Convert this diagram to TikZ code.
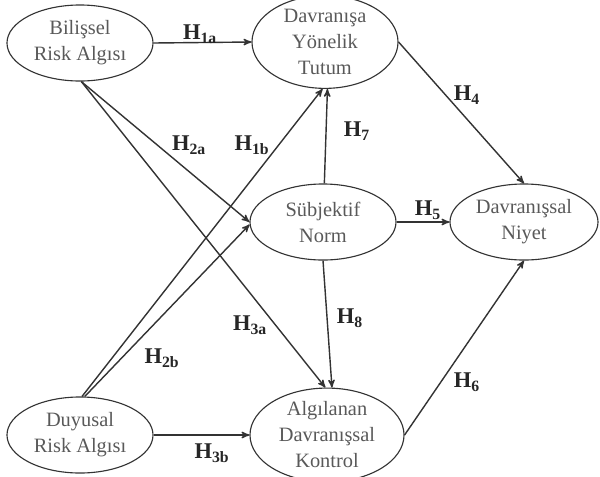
\documentclass[tikz,border=0pt]{standalone}
\usepackage{fontspec}
\setmainfont{Liberation Serif}
\usepackage{tikz}
\usetikzlibrary{arrows, shapes.geometric}

\begin{document}
\begin{tikzpicture}[>=stealth', x=0.025cm, y=-0.025cm,
    construct/.style={ellipse,
                      draw=black!80,
                      thick,
                      inner sep=0pt,
                      minimum width=3.65cm,   % ellipse width
                      minimum height=1.9cm,   % ellipse height
                      align=center,
                      text=black!65,
                      font=\fontsize{14.5}{18.5}\selectfont},
    hyp/.style={font=\fontsize{16}{18}\selectfont\bfseries, text=black!85, inner sep=1pt},
    path/.style={->, line width=1pt, draw=black!80}]

  \useasboundingbox (0,0) rectangle (600,476);

  % Constructs
  \node[construct] (Bilissel) at (80,43)  {Bilişsel\\Risk Algısı};
  \node[construct] (Tutum)    at (325,42) {Davranışa\\Yönelik\\Tutum};
  \node[construct] (Norm)     at (323,222) {Sübjektif\\Norm};
  \node[construct, minimum width=3.7cm] (Niyet) at (524,222) {Davranışsal\\Niyet};
  \node[construct] (Duyusal)  at (80,435) {Duyusal\\Risk Algısı};
  \node[construct, minimum width=3.85cm] (Kontrol) at (327,435) {Algılanan\\Davranışsal\\Kontrol};

  % Paths
  \draw[path] (Bilissel.east) -- (Tutum.west);
  \draw[path] (Duyusal.87) -- (Tutum.-93);
  \draw[path] (Bilissel.-88) -- (Norm.180);
  \draw[path] (Duyusal.83) -- (Norm.182);
  \draw[path] (Bilissel.-88) -- (Kontrol.92);
  \draw[path] (Duyusal.east) -- (Kontrol.west);
  \draw[path] (Tutum.east) -- (Niyet.north);
  \draw[path] (Norm.east) -- (Niyet.west);
  \draw[path] (Kontrol.east) -- (Niyet.south);
  \draw[path] (Norm.88) -- (Tutum.-87);
  \draw[path] (Norm.south) -- (Kontrol.84);

  % Hypothesis labels
  \node[hyp] (h1a) at (200,34)  {H\textsubscript{1a}};
  \node[hyp] (h1b) at (252,145) {H\textsubscript{1b}};
  \node[hyp] (h2a) at (189,145) {H\textsubscript{2a}};
  \node[hyp] (h2b) at (162,358) {H\textsubscript{2b}};
  \node[hyp] (h3a) at (250,325) {H\textsubscript{3a}};
  \node[hyp] (h3b) at (212,453) {H\textsubscript{3b}};
  \node[hyp] (h4)  at (467,95)  {H\textsubscript{4}};
  \node[hyp] (h5)  at (428,210) {H\textsubscript{5}};
  \node[hyp] (h6)  at (467,382) {H\textsubscript{6}};
  \node[hyp] (h7)  at (357,131) {H\textsubscript{7}};
  \node[hyp] (h8)  at (350,318) {H\textsubscript{8}};

\end{tikzpicture}
\end{document}
